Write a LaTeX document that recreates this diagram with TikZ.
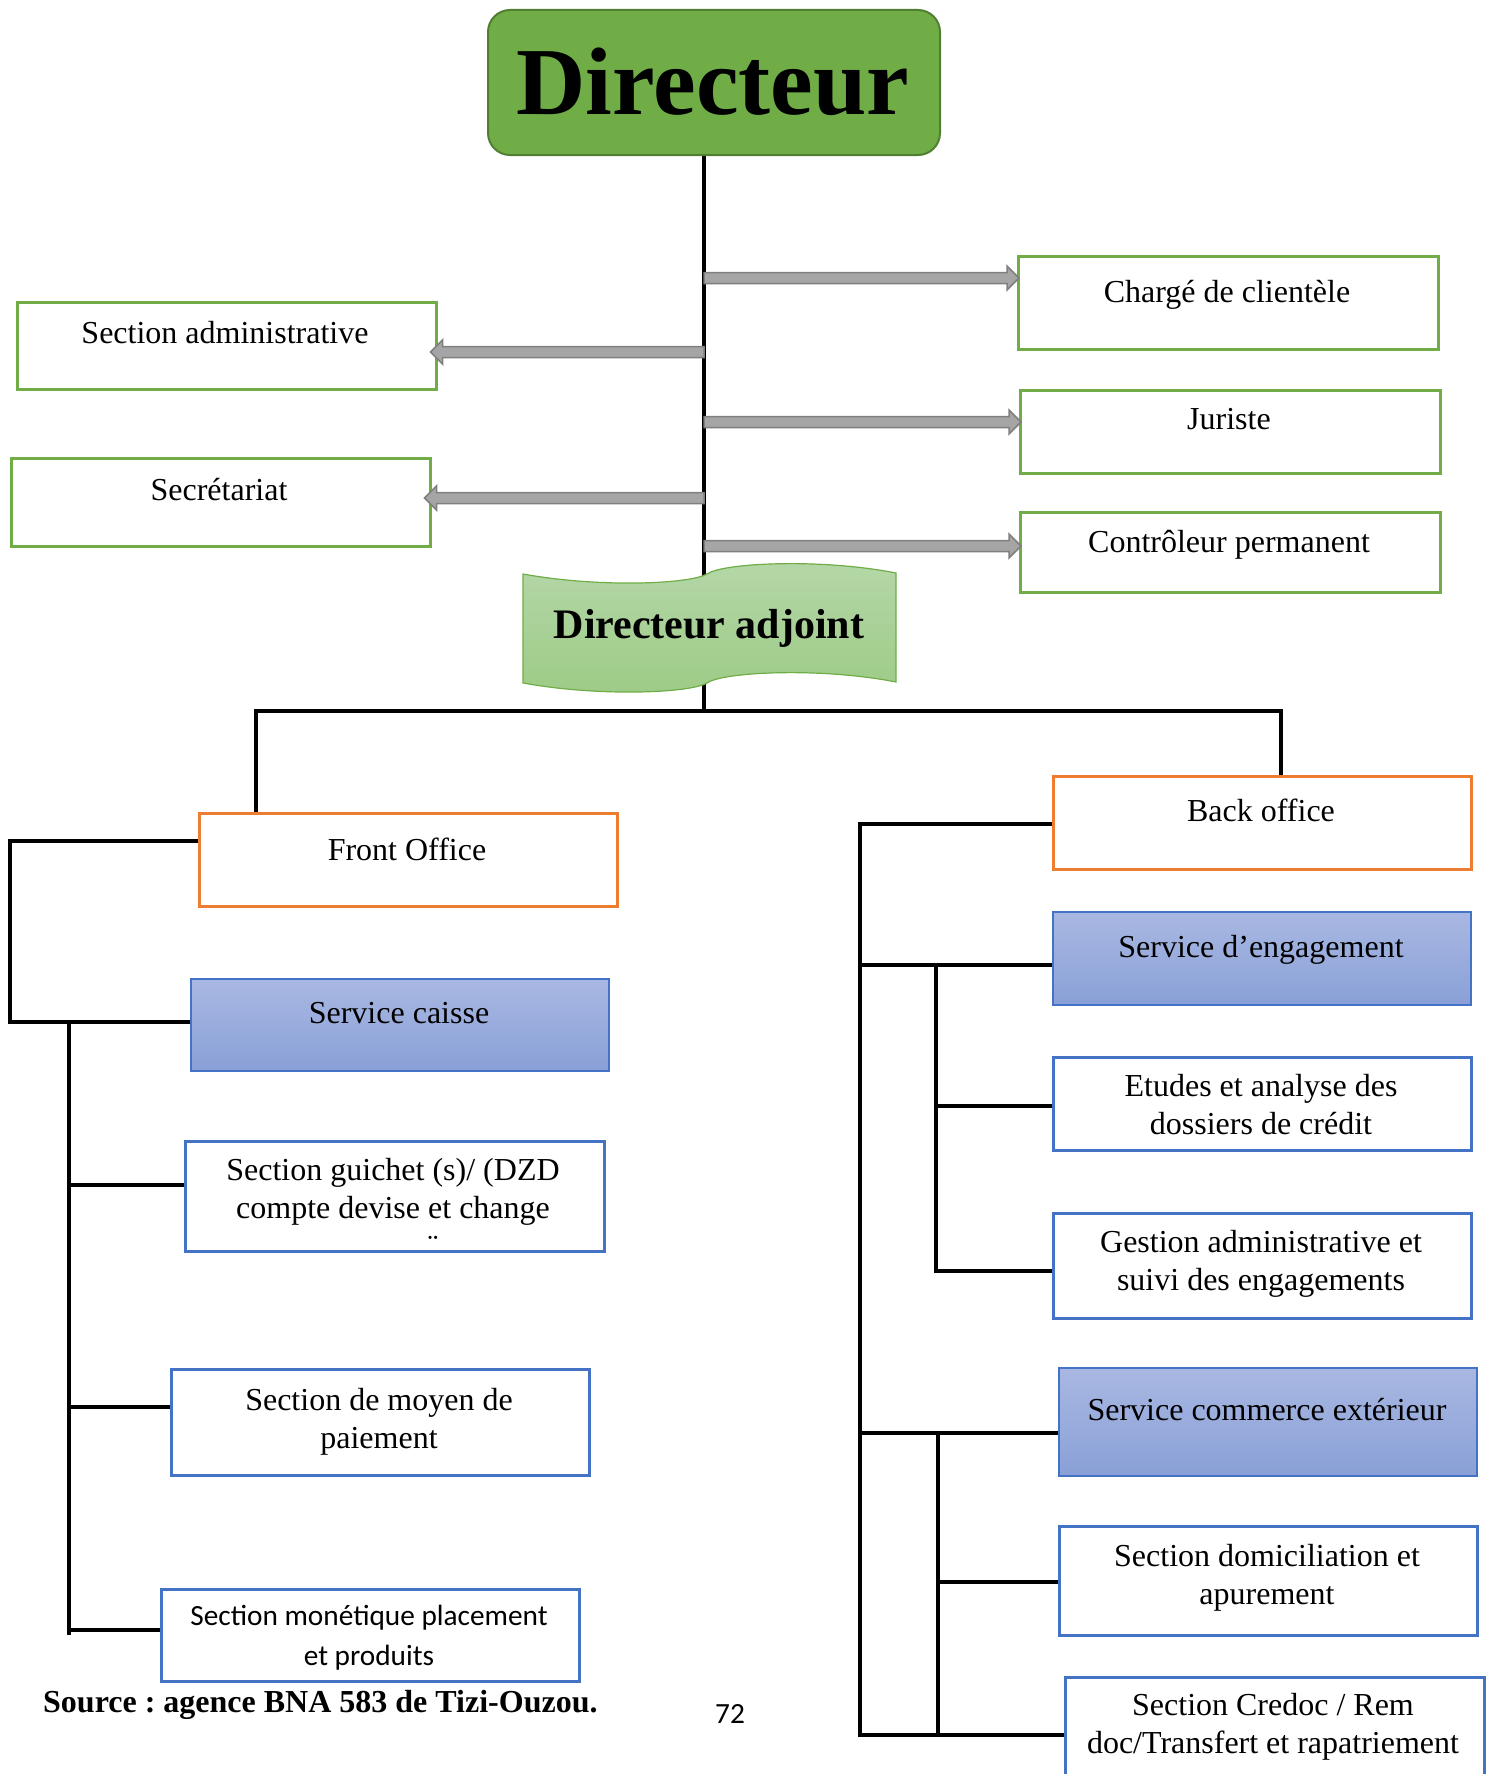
\documentclass[tikz,border=0pt]{standalone}
\usepackage{fontspec}
\setmainfont{Liberation Serif}
\newfontfamily\calib{Carlito}
\usetikzlibrary{calc}
\frenchspacing
\definecolor{gG}{HTML}{70AD47}
\definecolor{gD}{HTML}{507E32}
\definecolor{oR}{HTML}{ED7D31}
\definecolor{bL}{HTML}{4472C4}
\definecolor{bT}{HTML}{A9B8E2}
\definecolor{bB}{HTML}{89A0D7}
\definecolor{aF}{HTML}{A5A5A5}
\definecolor{aD}{HTML}{7F7F7F}
\definecolor{wT}{HTML}{B5D7A8}
\definecolor{wB}{HTML}{9DCB86}
\newcommand\mlines[1]{\begin{tabular}[t]{@{}c@{}}#1\end{tabular}}
\newcommand\blockarrow[2]{%
  \draw[blockarr] let \p1=(#1), \p2=(#2), \n1={sign(\x2-\x1)} in
    (\x1,\y1+5.5pt) -- (\x2-\n1*12pt,\y1+5.5pt) -- (\x2-\n1*12pt,\y1+12pt) -- (\x2,\y1)
    -- (\x2-\n1*12pt,\y1-12pt) -- (\x2-\n1*12pt,\y1-5.5pt) -- (\x1,\y1-5.5pt) -- cycle;}
\pgfdeclarelayer{bg}
\pgfsetlayers{bg,main}
\begin{document}
\begin{tikzpicture}[x=1pt,y=-1pt,
  box/.style={rectangle, inner sep=0pt, anchor=north west, line width=2.5pt, fill=white},
  greenbox/.style={box, draw=gG},
  orangebox/.style={box, draw=oR},
  bluebox/.style={box, draw=bL},
  bluegrad/.style={box, draw=bL, line width=1.8pt, top color=bT, bottom color=bB},
  dirbox/.style={box, fill=gG, draw=gD, line width=2pt, rounded corners=22pt},
  txt/.style={inner sep=0pt, anchor=base, font=\fontsize{32}{38.5}\selectfont},
  stxt/.style={inner sep=0pt, anchor=base, font=\calib\fontsize{29.3}{40}\selectfont},
  conn/.style={line width=4.5pt, black, line cap=rect, line join=miter},
  blockarr/.style={fill=aF, draw=aD, line width=1.5pt, line join=miter},
  banner/.style={top color=wT, bottom color=wB, draw=gG, line width=1.2pt},
]
\useasboundingbox (0,0) rectangle (1488,1774);
\clip (0,0) rectangle (1488,1774);

% ---------- boxes ----------
\node[dirbox, minimum width=452pt, minimum height=145pt] (dir) at (487,9) {};
\node[inner sep=0pt, anchor=base, font=\bfseries\fontsize{96}{100}\selectfont] (dir-t) at (713,115) {Directeur};

\node[greenbox, minimum width=420pt, minimum height=93pt] (cc) at (1017,255) {};
\node[txt] (cc-t) at (1227,302) {Chargé de clientèle};
\node[greenbox, minimum width=420pt, minimum height=83pt] (ju) at (1019,389) {};
\node[txt] (ju-t) at (1229,429) {Juriste};
\node[greenbox, minimum width=420pt, minimum height=80pt] (cp) at (1019,511) {};
\node[txt] (cp-t) at (1229,552) {Contrôleur permanent};
\node[greenbox, minimum width=419pt, minimum height=87pt] (sa) at (16,301) {};
\node[txt] (sa-t) at (225,343) {Section administrative};
\node[greenbox, minimum width=419pt, minimum height=88pt] (se) at (10,457) {};
\node[txt] (se-t) at (219,500) {Secrétariat};

\node[orangebox, minimum width=418pt, minimum height=93pt] (fo) at (198,812) {};
\node[txt] (fo-t) at (407,860) {Front Office};
\node[bluegrad, minimum width=418pt, minimum height=92pt] (sc) at (190,978) {};
\node[txt] (sc-t) at (399,1023) {Service caisse};
\node[bluebox, minimum width=419pt, minimum height=110pt] (sg) at (184,1140) {};
\node[txt] (sg-t) at (393,1180) {\mlines{Section guichet (s)/ (DZD\\compte devise et change}};
\node[txt] (sg-c) at (433,1256) {¨};
\node[bluebox, minimum width=418pt, minimum height=106pt] (mp) at (170,1368) {};
\node[txt] (mp-t) at (379,1410) {\mlines{Section de moyen de\\paiement}};
\node[bluebox, minimum width=418pt, minimum height=92pt] (mo) at (160,1588) {};
\node[stxt] (mo-t) at (369,1625) {\mlines{Section monétique placement\\et produits}};

\node[orangebox, minimum width=418pt, minimum height=93pt] (bo) at (1052,775) {};
\node[txt] (bo-t) at (1261,821) {Back office};
\node[bluegrad, minimum width=418pt, minimum height=93pt] (sd) at (1052,911) {};
\node[txt] (sd-t) at (1261,957) {Service d’engagement};
\node[bluebox, minimum width=418pt, minimum height=93pt] (ea) at (1052,1056) {};
\node[txt] (ea-t) at (1261,1096) {\mlines{Etudes et analyse des\\dossiers de crédit}};
\node[bluebox, minimum width=418pt, minimum height=105pt] (ga) at (1052,1212) {};
\node[txt] (ga-t) at (1261,1252) {\mlines{Gestion administrative et\\suivi des engagements}};
\node[bluegrad, minimum width=418pt, minimum height=108pt] (ce) at (1058,1367) {};
\node[txt] (ce-t) at (1267,1420) {Service commerce extérieur};
\node[bluebox, minimum width=418pt, minimum height=109pt] (dm) at (1058,1525) {};
\node[txt] (dm-t) at (1267,1566) {\mlines{Section domiciliation et\\apurement}};
\node[bluebox, minimum width=419pt, minimum height=130pt] (cr) at (1064,1676) {};
\node[txt] (cr-t) at (1273,1715) {\mlines{Section Credoc / Rem\\doc/Transfert et rapatriement}};

% ---------- connector coordinates ----------
\coordinate (vt) at (704,154);
\coordinate (hub) at (704,711);
\coordinate (jL) at (256,711);
\coordinate (jR) at (1281,711);
\coordinate (L1) at (10,841);
\coordinate (L2) at (10,1022);
\coordinate (Lv1) at (69,1022);
\coordinate (Lv2) at (69,1633);
\coordinate (g1) at (69,1185);
\coordinate (g2) at (69,1407);
\coordinate (g3) at (69,1630);
\coordinate (R0) at (860,824);
\coordinate (Rb) at (860,1735);
\coordinate (r1) at (860,965);
\coordinate (r2) at (860,1433);
\coordinate (s1) at (936,965);
\coordinate (s2) at (936,1271);
\coordinate (e1) at (936,1106);
\coordinate (t1) at (938,1433);
\coordinate (t2) at (938,1735);
\coordinate (d1) at (938,1582);

\begin{pgfonlayer}{bg}
\draw[conn] (vt) -- (hub);
\draw[conn] (jL) -- (jR);
\draw[conn] (jL) -- (jL |- fo.north);
\draw[conn] (jR) -- (jR |- bo.north);
\draw[conn] (L1 -| fo.west) -- (L1) -- (L2) -- (L2 -| sc.west);
\draw[conn] (Lv1) -- (Lv2);
\draw[conn] (g1) -- (g1 -| sg.west);
\draw[conn] (g2) -- (g2 -| mp.west);
\draw[conn] (g3) -- (g3 -| mo.west);
\draw[conn] (R0 -| bo.west) -- (R0) -- (Rb) -- (Rb -| cr.west);
\draw[conn] (r1) -- (r1 -| sd.west);
\draw[conn] (s1) -- (s2) -- (s2 -| ga.west);
\draw[conn] (e1) -- (e1 -| ea.west);
\draw[conn] (r2) -- (r2 -| ce.west);
\draw[conn] (t1) -- (t2);
\draw[conn] (d1) -- (d1 -| dm.west);
\end{pgfonlayer}

% ---------- block arrows ----------
\coordinate (a1) at (704,278);
\coordinate (a2) at (704,352);
\coordinate (a3) at (704,422);
\coordinate (a4) at (704,498);
\coordinate (a5) at (704,546);
\blockarrow{a1}{$(a1 -| cc.west)+(2,0)$}
\blockarrow{a2}{$(a2 -| sa.east)+(-7,0)$}
\blockarrow{a3}{$(a3 -| ju.west)+(2,0)$}
\blockarrow{a4}{$(a4 -| se.east)+(-7,0)$}
\blockarrow{a5}{$(a5 -| cp.west)+(2,0)$}

% ---------- wave banner ----------
\path[banner] (523,574) .. controls (600,588) and (690,584) .. (707,574)
  .. controls (722,563) and (820,558) .. (896,573)
  -- (896,682) .. controls (820,667) and (722,672) .. (707,683)
  .. controls (690,693) and (600,697) .. (523,683) -- cycle;
\node[inner sep=0pt, anchor=base, font=\bfseries\fontsize{42}{46}\selectfont] (adj) at (709,638) {Directeur adjoint};

% ---------- footer ----------
\node[inner sep=0pt, anchor=base west, font=\bfseries\fontsize{32}{38}\selectfont] (src) at (43,1712) {Source : agence BNA 583 de Tizi-Ouzou.};
\node[stxt] (pg) at (730,1723) {72};
\end{tikzpicture}
\end{document}
